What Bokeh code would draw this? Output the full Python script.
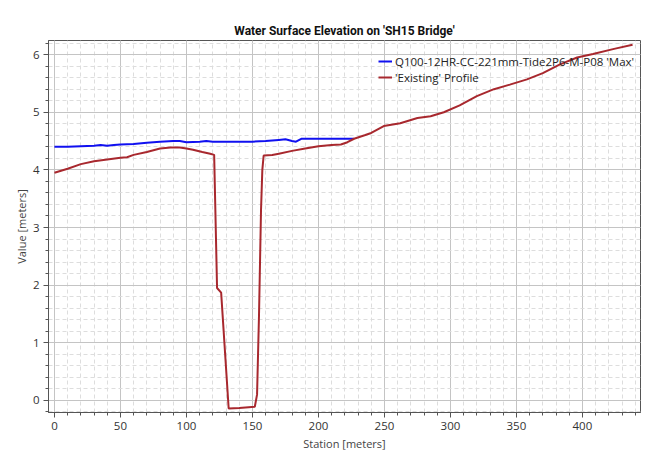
from bokeh.plotting import figure
from bokeh.models import Range1d, SingleIntervalTicker, Legend, LegendItem
from bokeh.embed import file_html
from bokeh.resources import INLINE

title = "Water Surface Elevation on 'SH15 Bridge'"
x_label = "Station [meters]"
y_label = "Value [meters]"

wse_name = "Q100-12HR-CC-221mm-Tide2P6-M-P08 'Max'"
wse_x = [0, 10, 20, 30, 35, 40, 45, 50, 60, 70, 80, 90, 95, 100, 110, 115, 120,
         130, 140, 150, 160, 170, 175, 180, 183, 187, 200, 215, 227]
wse_y = [4.40, 4.40, 4.41, 4.42, 4.43, 4.42, 4.43, 4.44, 4.45, 4.47, 4.49, 4.50, 4.50,
         4.48, 4.49, 4.50, 4.49, 4.49, 4.49, 4.49, 4.50, 4.52, 4.53, 4.50, 4.49, 4.54,
         4.54, 4.54, 4.54]

ground_name = "'Existing' Profile"
ground_x = [0, 10, 20, 30, 40, 50, 55, 60, 70, 80, 88, 95, 100, 105, 112, 118, 121,
            123.2, 126.3, 132, 140, 151.8, 153.5, 155, 156.5, 157.5, 158.5, 165, 170,
            180, 190, 200, 210, 217, 222, 227, 235, 240, 249.5, 262, 275, 285, 295,
            307, 320, 333, 345, 358, 370, 383, 396, 408, 424, 438]
ground_y = [3.95, 4.02, 4.10, 4.15, 4.18, 4.21, 4.22, 4.26, 4.31, 4.37, 4.39, 4.39,
            4.37, 4.35, 4.31, 4.28, 4.26, 1.95, 1.87, -0.14, -0.13, -0.11, 0.10, 1.50,
            3.30, 4.00, 4.25, 4.26, 4.28, 4.33, 4.37, 4.41, 4.43, 4.44, 4.48, 4.54,
            4.60, 4.64, 4.76, 4.81, 4.90, 4.93, 5.00, 5.12, 5.28, 5.40, 5.48, 5.57,
            5.68, 5.83, 5.95, 6.01, 6.10, 6.17]

p = figure(width=661, height=453, output_backend="svg", toolbar_location=None,
           x_range=Range1d(-4.5, 444), y_range=Range1d(-0.21, 6.245),
           min_border_left=48, min_border_right=21, min_border_top=40, min_border_bottom=40)

p.title.text = title
p.title.align = "center"
p.title.text_font = "Roboto"
p.title.text_font_style = "bold"
p.title.text_font_size = "12px"
p.title.text_color = "#111111"
p.title.standoff = 5

p.outline_line_color = "#555555"
p.outline_line_width = 1
p.background_fill_color = "white"
p.border_fill_color = "white"

p.xaxis.ticker = SingleIntervalTicker(interval=50, num_minor_ticks=5)
p.yaxis.ticker = SingleIntervalTicker(interval=1, num_minor_ticks=5)

for ax in (p.xaxis[0], p.yaxis[0]):
    ax.axis_line_color = "#555555"
    ax.major_tick_line_color = "#555555"
    ax.minor_tick_line_color = "#555555"
    ax.major_tick_out = 5
    ax.major_tick_in = 0
    ax.minor_tick_out = 3
    ax.minor_tick_in = 0
    ax.major_label_text_font = "Open Sans"
    ax.major_label_text_font_size = "11.5px"
    ax.major_label_text_color = "#333333"
    ax.major_label_standoff = 4
    ax.axis_label_text_font = "Open Sans"
    ax.axis_label_text_font_size = "11px"
    ax.axis_label_text_font_style = "normal"
    ax.axis_label_text_color = "#444444"
    ax.axis_label_standoff = 3

p.yaxis[0].axis_label_standoff = 1

p.xaxis.axis_label = x_label
p.yaxis.axis_label = y_label

p.xgrid.grid_line_color = "#c4c4c4"
p.ygrid.grid_line_color = "#c4c4c4"
p.xgrid.minor_grid_line_color = "#dddddd"
p.ygrid.minor_grid_line_color = "#dddddd"
p.xgrid.minor_grid_line_dash = "4 3"
p.ygrid.minor_grid_line_dash = "4 3"

r_wse = p.line(wse_x, wse_y, line_color="#1010f0", line_width=2)
r_gr = p.line(ground_x, ground_y, line_color="#a8282e", line_width=2)

legend = Legend(items=[LegendItem(label=wse_name, renderers=[r_wse]),
                       LegendItem(label=ground_name, renderers=[r_gr])],
                location=(330, 327))
legend.background_fill_alpha = 0
legend.border_line_alpha = 0
legend.padding = 0
legend.margin = 0
legend.spacing = 0
legend.glyph_width = 14
legend.glyph_height = 16
legend.label_height = 16
legend.label_standoff = 3
legend.label_text_font = "Open Sans"
legend.label_text_font_size = "11.5px"
legend.label_text_color = "#222222"
p.add_layout(legend, "center")

open("out.html", "w").write(file_html(p, INLINE))
